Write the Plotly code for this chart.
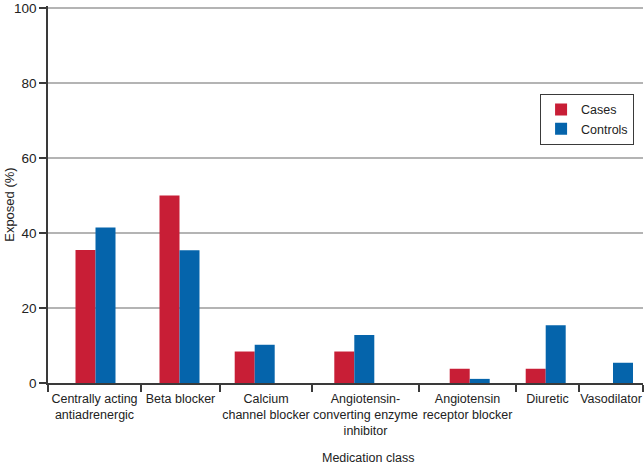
import plotly.graph_objects as go

# ---- data ----
categories = [
    "Centrally acting<br>antiadrenergic",
    "Beta blocker",
    "Calcium<br>channel blocker",
    "Angiotensin-<br>converting enzyme<br>inhibitor",
    "Angiotensin<br>receptor blocker",
    "Diuretic",
    "Vasodilator",
]
cases = [35.5, 50.0, 8.4, 8.4, 3.8, 3.8, 0.0]
controls = [41.5, 35.4, 10.2, 12.8, 1.1, 15.4, 5.4]
y_ticks = [0, 20, 40, 60, 80, 100]

# ---- layout (category boundaries and bar-group centres on a linear axis) ----
bounds = [0, 93, 172, 264, 371, 468, 531, 595]
label_pos = [(bounds[i] + bounds[i + 1]) / 2 for i in range(len(categories))]
bar_pos = [47.5, 131.5, 206.7, 306.3, 421.7, 497.7, 565.0]
BW = 20

RED = "#c81e36"
BLUE = "#0564ab"
FONT = "Liberation Sans, Arial, sans-serif"
TXT = "#222222"
AX = "#3a3a3a"

fig = go.Figure()
fig.add_trace(go.Bar(name="Cases", x=bar_pos, y=cases, width=BW, offset=-BW,
                     marker=dict(color=RED, line=dict(width=0))))
fig.add_trace(go.Bar(name="Controls", x=bar_pos, y=controls, width=BW, offset=0,
                     marker=dict(color=BLUE, line=dict(width=0))))

fig.update_layout(
    width=644, height=467,
    margin=dict(l=48, r=1, t=3, b=84),
    paper_bgcolor="white", plot_bgcolor="white",
    font=dict(family=FONT, size=12.5, color=TXT),
    barmode="overlay",
    showlegend=True,
    legend=dict(x=0.985, y=0.767, xanchor="right", yanchor="top",
                bgcolor="white", bordercolor=AX, borderwidth=1,
                font=dict(size=12.5, color=TXT), itemwidth=30,
                tracegroupgap=0),
    xaxis=dict(
        range=[bounds[0], bounds[-1]],
        tickmode="array", tickvals=label_pos, ticktext=categories,
        ticks="", showgrid=False, zeroline=False,
        showline=True, linecolor=AX, linewidth=1.5,
        tickfont=dict(size=12.5, color=TXT), ticklabelstandoff=3,
        minor=dict(tickmode="array", tickvals=bounds, ticks="outside",
                   ticklen=7, tickwidth=1.5, tickcolor=AX, showgrid=False),
    ),
    yaxis=dict(
        range=[0, 100.55], tickmode="array", tickvals=y_ticks,
        ticks="outside", ticklen=7, tickwidth=1.5, tickcolor=AX,
        showline=True, linecolor=AX, linewidth=1.5,
        showgrid=True, gridcolor="#b4b4b4", gridwidth=1.5,
        zeroline=False, ticklabeloverflow="allow",
        tickfont=dict(size=13.5, color=TXT),
    ),
    annotations=[
        dict(text="Medication class", xref="x", yref="paper",
             x=320, y=-0.174, xanchor="center", yanchor="top",
             showarrow=False, font=dict(size=12.5, color=TXT)),
        dict(text="Exposed (%)", xref="paper", yref="paper",
             x=-0.066, y=0.472, xanchor="center", yanchor="middle",
             textangle=-90, showarrow=False, font=dict(size=13, color=TXT)),
    ],
)

fig.write_html("out.html", post_script="document.body.style.margin='0';",
               config={"displayModeBar": False})
